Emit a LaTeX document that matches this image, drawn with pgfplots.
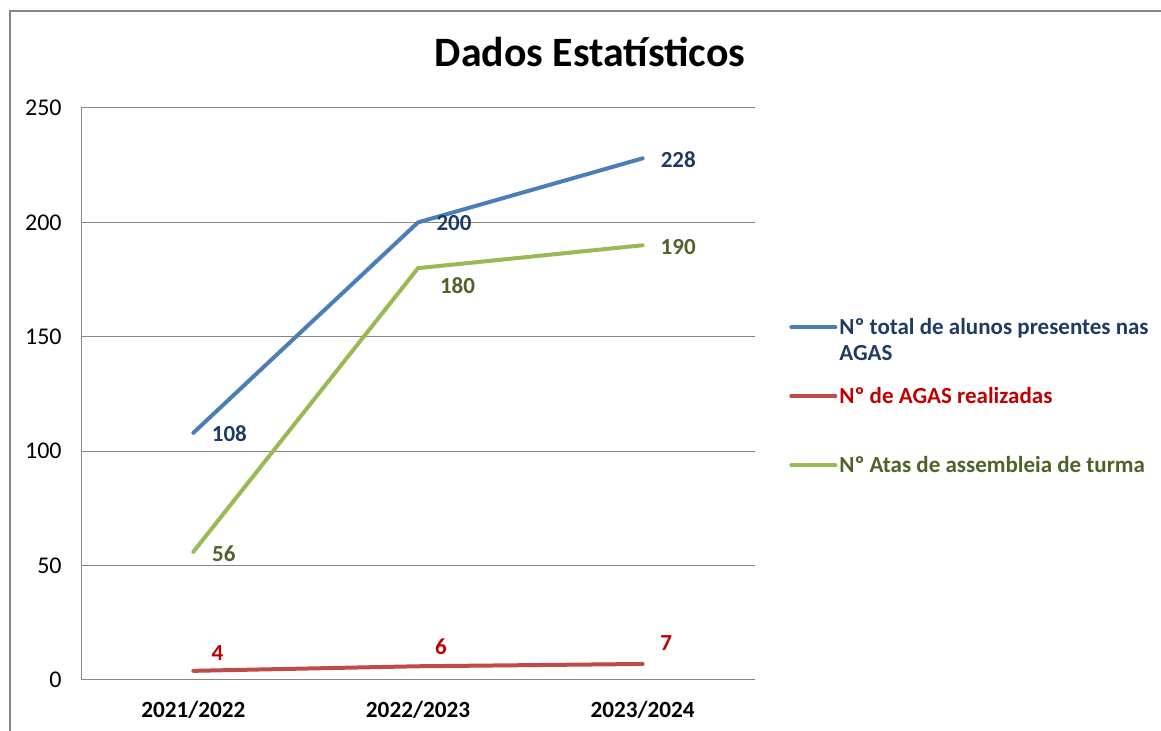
\documentclass[border=0pt]{standalone}
\usepackage{pgfplots}
\pgfplotsset{compat=1.18}
\usepackage{pgfplotstable}
\usepackage{fontspec}
\setmainfont{Carlito}
\definecolor{lblue}{HTML}{4A7EBB}
\definecolor{lred}{HTML}{BE4B48}
\definecolor{lgreen}{HTML}{98B954}
\definecolor{tblue}{HTML}{1F3B64}
\definecolor{tred}{HTML}{C00000}
\definecolor{tgreen}{HTML}{4F6228}
\definecolor{gridgray}{HTML}{868686}

\pgfplotstableread{
x y lx ly
0 108 18 -0.5
1 200 18 -0.3
2 228 17.8 -0.85
}\tblA
\pgfplotstableread{
x y lx ly
0 4 12 9
1 6 11.5 10
2 7 11.75 10.7
}\tblB
\pgfplotstableread{
x y lx ly
0 56 15.25 -1
1 180 19.75 -8.5
2 190 17.75 -0.7
}\tblC

\begin{document}
\begin{tikzpicture}
\useasboundingbox (0,0) rectangle (580.5pt,365.5pt);
\draw[gridgray, line width=1pt] (5pt,-20pt) -- (5pt,360pt) -- (620pt,360pt);
\node[anchor=base, font=\fontsize{20.9}{24}\selectfont\bfseries] at (295pt,332pt) {Dados Estatísticos};
\begin{axis}[
  scale only axis,
  width=337pt, height=286pt,
  at={(40.5pt,25.5pt)}, anchor=south west,
  xmin=-0.5, xmax=2.5, ymin=0, ymax=250,
  xtick={0,1,2}, xticklabels={2021/2022,2022/2023,2023/2024},
  ytick={0,50,100,150,200,250},
  axis x line*=bottom, axis y line*=left,
  axis line style={gridgray, line width=0.5pt, -},
  ymajorgrids, grid style={gridgray, line width=0.5pt},
  major tick length=0pt,
  /pgf/number format/assume math mode=true,
  yticklabel style={anchor=east, inner sep=0pt, xshift=-9.5pt, font=\fontsize{12}{14}\selectfont},
  xticklabel style={anchor=base, inner sep=0pt, yshift=-19pt, font=\fontsize{11.6}{14}\selectfont\bfseries},
  clip=false,
  legend style={draw=none, fill=none, inner sep=0pt, at={(1.0504,0.6367)}, anchor=north west,
    nodes={inner sep=0pt, text depth=, anchor=base west}, row sep=8.5pt, column sep=1pt,
    font=\fontsize{11.5}{13}\selectfont\bfseries},
  legend cell align=left,
  legend image code/.code={\draw[#1, line width=2pt] (0pt,3.5pt) -- (22pt,3.5pt);},
  visualization depends on={\thisrow{lx} \as \lx},
  visualization depends on={\thisrow{ly} \as \ly},
  nodes near coords,
  every node near coord/.append style={anchor=center, inner sep=0pt, xshift=\lx pt, yshift=\ly pt, font=\fontsize{11.5}{13}\selectfont\bfseries},
]
\addplot[lblue, line width=2pt, line cap=round, line join=round, every node near coord/.append style={text=tblue}] table[x=x, y=y] {\tblA};
\addlegendentry{\textcolor{tblue}{\begin{tabular}[t]{@{}l@{}}Nº total de alunos presentes nas\\AGAS\end{tabular}}}
\addplot[lred, line width=2pt, line cap=round, line join=round, every node near coord/.append style={text=tred}] table[x=x, y=y] {\tblB};
\addlegendentry{\textcolor{tred}{\begin{tabular}[t]{@{}l@{}}Nº de AGAS realizadas\\\mbox{}\end{tabular}}}
\addplot[lgreen, line width=2pt, line cap=round, line join=round, every node near coord/.append style={text=tgreen}] table[x=x, y=y] {\tblC};
\addlegendentry{\textcolor{tgreen}{\begin{tabular}[t]{@{}l@{}}Nº Atas de assembleia de turma\\\mbox{}\end{tabular}}}
\end{axis}
\end{tikzpicture}
\end{document}
